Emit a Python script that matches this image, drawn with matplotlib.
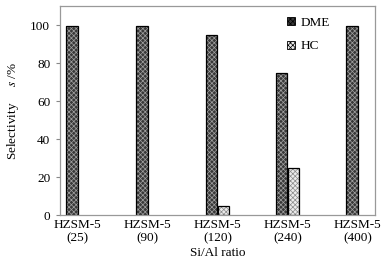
import numpy as np
import matplotlib
matplotlib.use("Agg")
import matplotlib.pyplot as plt
from matplotlib.patches import Patch

categories = ["HZSM-5\n(25)", "HZSM-5\n(90)", "HZSM-5\n(120)", "HZSM-5\n(240)", "HZSM-5\n(400)"]
dme = [99.5, 99.5, 95.0, 74.5, 99.5]
hc = [0.0, 0.0, 4.5, 25.0, 0.0]

plt.rcParams["font.family"] = ["Liberation Serif", "DejaVu Serif"]
plt.rcParams["mathtext.fontset"] = "stix"
plt.rcParams["font.size"] = 9.5
plt.rcParams["hatch.linewidth"] = 0.5

fig = plt.figure(figsize=(3.87, 2.64), dpi=100)
ax = fig.add_axes([60 / 387, 1 - 215 / 264, 315 / 387, 209 / 264])

x = np.arange(len(categories))
w = 0.16

# DME: dark fill with fine light hatch, then black outline
ax.bar(x - w / 2, dme, w, color="#383838", hatch="xxxxxxx", edgecolor="#a0a0a0", linewidth=0)
ax.bar(x - w / 2, dme, w, fill=False, edgecolor="black", linewidth=0.9)

# HC: light fill with gray hatch (zero values not drawn)
hc_arr = np.array(hc)
hc_mask = hc_arr > 0
ax.bar(x[hc_mask] + w / 2, hc_arr[hc_mask], w, color="#ececec",
       hatch="xxxxxxx", edgecolor="#8a8a8a", linewidth=0)
ax.bar(x[hc_mask] + w / 2, hc_arr[hc_mask], w, fill=False,
       edgecolor="black", linewidth=0.9)

ax.set_xlim(-0.25, 4.25)
ax.set_ylim(0, 110)
ax.set_yticks([0, 20, 40, 60, 80, 100])
ax.set_xticks(x)
ax.set_xticklabels(categories, fontsize=9.5, linespacing=1.1)
ax.tick_params(axis="x", length=0, pad=3)
ax.tick_params(axis="y", direction="out", length=3, width=0.8, color="#888888",
               pad=4, labelsize=9.5)

for s in ax.spines.values():
    s.set_color("#999999")
    s.set_linewidth(0.9)

ax.set_ylabel(r"Selectivity     $\mathit{s}$ /%", fontsize=9.5, labelpad=7)
ax.set_xlabel("Si/Al ratio", fontsize=9.5, labelpad=2)

handles = [
    Patch(facecolor="#383838", edgecolor="black", hatch="xxxxxxx", linewidth=0.6),
    Patch(facecolor="#ececec", edgecolor="black", hatch="xxxxxxx", linewidth=0.6),
]
ax.legend(handles, ["DME", "HC"], loc="upper left", bbox_to_anchor=(0.705, 0.975),
          frameon=False, handlelength=0.6, handleheight=0.6, handletextpad=0.4,
          labelspacing=0.9, fontsize=9.5, borderaxespad=0)

fig.savefig("out.png", dpi=100)
